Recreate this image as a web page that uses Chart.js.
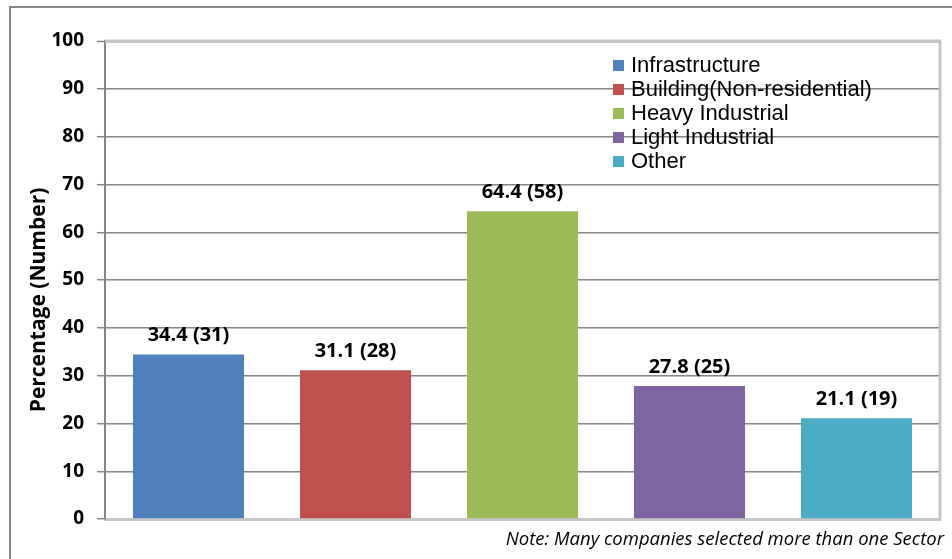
<!DOCTYPE html>
<html>
<head>
<meta charset="utf-8">
<script src="https://cdn.jsdelivr.net/npm/chart.js@4/dist/chart.umd.min.js"></script>
<style>
  html, body { margin: 0; padding: 0; background: #fff; }
  #wrap { position: relative; width: 952px; height: 559px; }
</style>
</head>
<body>
<div id="wrap"><canvas id="setores" width="952" height="559"></canvas></div>
<script>
// sectors and survey results
const setores = ['Infrastructure', 'Building(Non-residential)', 'Heavy Industrial', 'Light Industrial', 'Other'];
const percentuais = [34.4, 31.1, 64.4, 27.8, 21.1];
const empresas = [31, 28, 58, 25, 19];
const cores = ['#4F81BD', '#C0504D', '#9BBB59', '#8064A2', '#4BACC6'];
const tituloY = 'Percentage (Number)';
const nota = 'Note: Many companies selected more than one Sector';

const cinzaEscuro = '#858585';
const cinzaClaro = '#c6c6c6';

// frame, legend, value labels, axis title and footnote
const extras = {
    id: 'extras',
    beforeDraw(chart) {
        const ctx = chart.ctx;
        ctx.save();
        ctx.strokeStyle = cinzaEscuro;
        ctx.lineWidth = 2;
        ctx.strokeRect(10, 7, 1000, 600);
        ctx.restore();
    },
    afterDatasetsDraw(chart) {
        const ctx = chart.ctx;
        const area = chart.chartArea;
        ctx.save();

        // plot area border (top + right)
        ctx.strokeStyle = cinzaClaro;
        ctx.lineWidth = 3;
        ctx.beginPath();
        ctx.moveTo(area.left, area.top);
        ctx.lineTo(area.right, area.top);
        ctx.lineTo(area.right, area.bottom);
        ctx.stroke();

        // value labels over the bars
        const meta = chart.getDatasetMeta(0);
        ctx.fillStyle = '#000';
        ctx.font = 'bold 20px "Open Sans"';
        ctx.textAlign = 'center';
        ctx.textBaseline = 'middle';
        meta.data.forEach(function (bar, i) {
            ctx.fillText(percentuais[i] + ' (' + empresas[i] + ')', bar.x, bar.y - 19);
        });

        // legend
        ctx.font = '22px "Liberation Sans"';
        ctx.textAlign = 'left';
        setores.forEach(function (s, i) {
            const y = 66 + i * 24;
            ctx.fillStyle = cores[i];
            ctx.fillRect(613, y - 6, 11, 11);
            ctx.fillStyle = '#000';
            ctx.fillText(s, 631, y);
        });

        // y axis title
        ctx.save();
        ctx.translate(39, 300);
        ctx.rotate(-Math.PI / 2);
        ctx.font = 'bold 21px "Open Sans"';
        ctx.textAlign = 'center';
        ctx.fillText(tituloY, 0, 0);
        ctx.restore();

        // footnote
        ctx.font = 'italic 18.5px "Open Sans"';
        ctx.textAlign = 'right';
        ctx.fillStyle = '#000';
        ctx.fillText(nota, 944, 540);
        ctx.restore();
    }
};

const ctx = document.getElementById('setores').getContext('2d');
const grafico = new Chart(ctx, {
    type: 'bar',
    data: {
        labels: setores,
        datasets: [{
            data: percentuais,
            backgroundColor: cores,
            borderWidth: 0,
            barPercentage: 0.665,
            categoryPercentage: 1
        }]
    },
    plugins: [extras],
    options: {
        responsive: false,
        animation: false,
        layout: { padding: { top: 41, right: 12, bottom: 40, left: 0 } },
        plugins: {
            legend: { display: false },
            tooltip: { enabled: false }
        },
        scales: {
            x: {
                ticks: { display: false },
                grid: { display: false, drawTicks: false },
                border: { display: true, color: cinzaClaro, width: 3 },
                afterFit: function (scale) { scale.height = 0; }
            },
            y: {
                min: 0,
                max: 100,
                ticks: {
                    stepSize: 10,
                    color: '#000',
                    padding: 13,
                    font: { family: 'Open Sans', weight: 'bold', size: 19 }
                },
                grid: {
                    color: function (c) { return c.tick && c.tick.value === 100 ? cinzaClaro : cinzaEscuro; },
                    lineWidth: function (c) { return c.tick && c.tick.value === 100 ? 3 : 1.4; },
                    tickColor: cinzaEscuro,
                    tickLength: 8,
                    tickWidth: 1.5
                },
                border: { color: cinzaEscuro, width: 2 },
                afterFit: function (scale) { scale.width = 105; }
            }
        }
    }
});
</script>
</body>
</html>
